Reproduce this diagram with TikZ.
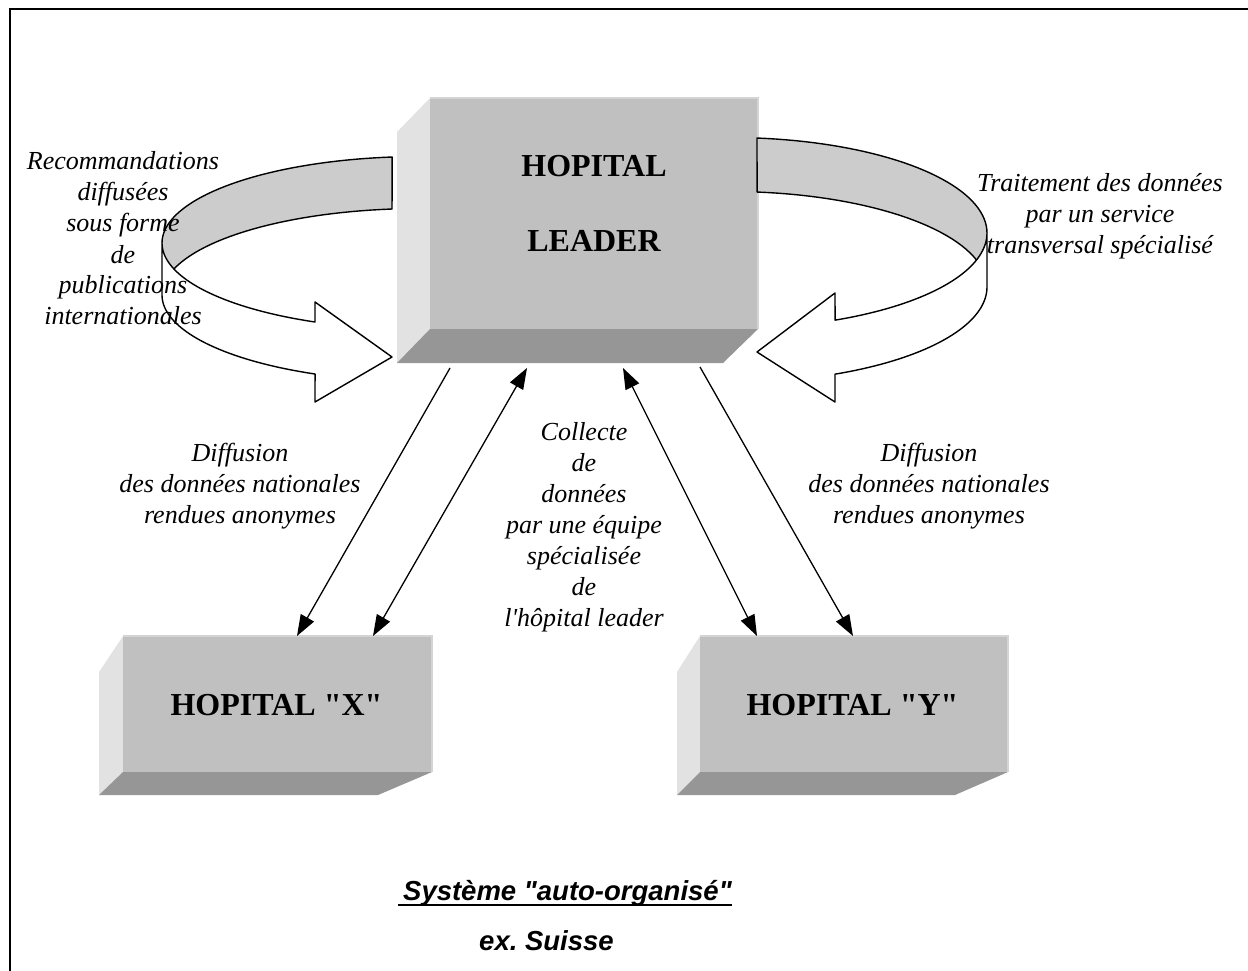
\documentclass[tikz,border=0pt]{standalone}
\usepackage{fontspec}
\setmainfont{Liberation Serif}
\setsansfont{Liberation Sans}
\usetikzlibrary{arrows.meta}
\definecolor{facegray}{HTML}{C0C0C0}
\definecolor{sidegray}{HTML}{E2E2E2}
\definecolor{undergray}{HTML}{969696}
\definecolor{bandgray}{HTML}{CCCCCC}
\definecolor{rimgray}{HTML}{D4D4D4}
\begin{document}
\begin{tikzpicture}[x=1pt,y=-1pt,
  sideface/.style={fill=sidegray},
  underface/.style={fill=undergray},
  frontface/.style={fill=facegray, inner sep=0pt},
  rim/.style={draw=rimgray, line width=1.6pt},
  ribbon/.style={draw=black, line width=1.4pt, line join=round},
  tipA/.tip={Triangle[length=21pt,width=15pt]},
  link/.style={line width=1.3pt, -tipA},
  dlink/.style={line width=1.3pt, tipA-tipA},
  note/.style={inner sep=0pt, anchor=base, font=\itshape\fontsize{26}{31}\selectfont},
  hosp/.style={inner sep=0pt, anchor=base, font=\bfseries\fontsize{32}{38}\selectfont},
  caption/.style={inner sep=0pt, anchor=base, font=\sffamily\bfseries\itshape\fontsize{27.5}{33}\selectfont},
]
\path[use as bounding box] (0,0) rectangle (1248,971);

% page frame (top and left rules)
\draw[line width=2.6pt] (10,975) -- (10,9) -- (1252,9);

% ---- leader hospital block ----
\fill[sideface] (397,132) -- (430,98) -- (430,329) -- (397,363) -- cycle;
\fill[underface] (397,363) -- (430,329) -- (758,329) -- (723,363) -- cycle;
\node[frontface, minimum width=328pt, minimum height=231pt] (leader) at (594,213.5) {};
\draw[rim] (leader.north west) -- (leader.north east) -- (leader.south east);
\node[hosp] (leaderA) at (594,176) {HOPITAL};
\node[hosp] (leaderB) at (594,251) {LEADER};

% ---- hospital X block ----
\fill[sideface] (99,672) -- (123,636) -- (123,772) -- (99,795) -- cycle;
\fill[underface] (99,795) -- (123,772) -- (432,772) -- (378,795) -- cycle;
\node[frontface, minimum width=309pt, minimum height=136pt] (hx) at (277.5,704) {};
\draw[rim] (hx.north west) -- (hx.north east) -- (hx.south east);
\node[hosp] (hxt) at (276.5,715) {HOPITAL \textquotedbl X\textquotedbl};

% ---- hospital Y block ----
\fill[sideface] (677,672) -- (700,636) -- (700,772) -- (677,795) -- cycle;
\fill[underface] (677,795) -- (700,772) -- (1008,772) -- (955,795) -- cycle;
\node[frontface, minimum width=308pt, minimum height=136pt] (hy) at (854,704) {};
\draw[rim] (hy.north west) -- (hy.north east) -- (hy.south east);
\node[hosp] (hyt) at (852.5,715) {HOPITAL \textquotedbl Y\textquotedbl};

% ---- left looping ribbon arrow ----
\fill[bandgray]
  plot[domain=0:1, samples=40, variable=\u] ({420+258*cos(263.8-83.8*\u)},{243+86.5*sin(263.8-83.8*\u)})
  -- plot[domain=0:1, samples=8, variable=\u] ({420+258*cos(180-17.46*\u)},{243+86.5*sin(180-17.46*\u)})
  -- plot[domain=0:1, samples=30, variable=\u] ({420+258*cos(197.46+66.34*\u)},{295+86.5*sin(197.46+66.34*\u)})
  -- cycle;
\draw[ribbon]
  plot[domain=0:1, samples=30, variable=\u] ({420+258*cos(197.46+66.34*\u)},{295+86.5*sin(197.46+66.34*\u)})
  -- plot[domain=0:1, samples=40, variable=\u] ({420+258*cos(263.8-83.8*\u)},{243+86.5*sin(263.8-83.8*\u)});
\filldraw[ribbon, fill=white]
  plot[domain=0:1, samples=40, variable=\u] ({420+258*cos(180-66*\u)},{243+86.5*sin(180-66*\u)})
  -- (315,302) -- (392,357) -- (315,402)
  -- plot[domain=0:1, samples=40, variable=\u] ({420+258*cos(114+66*\u)},{295+86.5*sin(114+66*\u)})
  -- cycle;

% ---- right looping ribbon arrow ----
\fill[bandgray]
  plot[domain=0:1, samples=40, variable=\u] ({730+257*cos(276.03+83.97*\u)},{233+95.5*sin(276.03+83.97*\u)})
  -- plot[domain=0:1, samples=8, variable=\u] ({730+257*cos(16.42*\u)},{233+95.5*sin(16.42*\u)})
  -- plot[domain=0:1, samples=30, variable=\u] ({730+257*cos(343.58-67.55*\u)},{287+95.5*sin(343.58-67.55*\u)})
  -- cycle;
\draw[ribbon]
  plot[domain=0:1, samples=30, variable=\u] ({730+257*cos(343.58-67.55*\u)},{287+95.5*sin(343.58-67.55*\u)})
  -- plot[domain=0:1, samples=40, variable=\u] ({730+257*cos(276.03+83.97*\u)},{233+95.5*sin(276.03+83.97*\u)});
\filldraw[ribbon, fill=white]
  plot[domain=0:1, samples=40, variable=\u] ({730+257*cos(65.88*\u)},{233+95.5*sin(65.88*\u)})
  -- (835,293) -- (757,352) -- (835,402)
  -- plot[domain=0:1, samples=40, variable=\u] ({730+257*cos(65.88-65.88*\u)},{287+95.5*sin(65.88-65.88*\u)})
  -- cycle;

% ---- connectors between the leader and the two hospitals ----
\coordinate (l1) at (450,368);  \coordinate (x1) at (297,636);
\coordinate (x2) at (373,636);  \coordinate (l2) at (527,368);
\coordinate (l3) at (623,368);  \coordinate (y1) at (757,636);
\coordinate (l4) at (700,367);  \coordinate (y2) at (853,636);
\draw[link]  (l1) -- (x1);
\draw[dlink] (x2) -- (l2);
\draw[dlink] (l3) -- (y1);
\draw[link]  (l4) -- (y2);

% ---- labels ----
\node[note] (recom) at (123,170) {\begin{tabular}[t]{@{}c@{}}Recommandations\\diffusées\\sous forme\\de\\publications\\internationales\end{tabular}};
\node[note] (trait) at (1100,192) {\begin{tabular}[t]{@{}c@{}}Traitement des données\\par un service\\transversal spécialisé\end{tabular}};
\node[note] (diffx) at (240,461) {\begin{tabular}[t]{@{}c@{}}Diffusion\\des données nationales\\rendues anonymes\end{tabular}};
\node[note] (diffy) at (929,461) {\begin{tabular}[t]{@{}c@{}}Diffusion\\des données nationales\\rendues anonymes\end{tabular}};
\node[note] (coll) at (584,440) {\begin{tabular}[t]{@{}c@{}}Collecte\\de\\données\\par une équipe\\spécialisée\\de\\l\textquotesingle hôpital leader\end{tabular}};

% ---- caption ----
\node[caption] (title) at (565,900) {\hspace{5pt}Système \textquotedbl auto-organisé\textquotedbl};
\draw[line width=2.6pt] ([yshift=-5pt]title.base west) -- ([yshift=-5pt]title.base east);
\node[caption] (country) at (546.5,950) {ex.\ Suisse};
\end{tikzpicture}
\end{document}
